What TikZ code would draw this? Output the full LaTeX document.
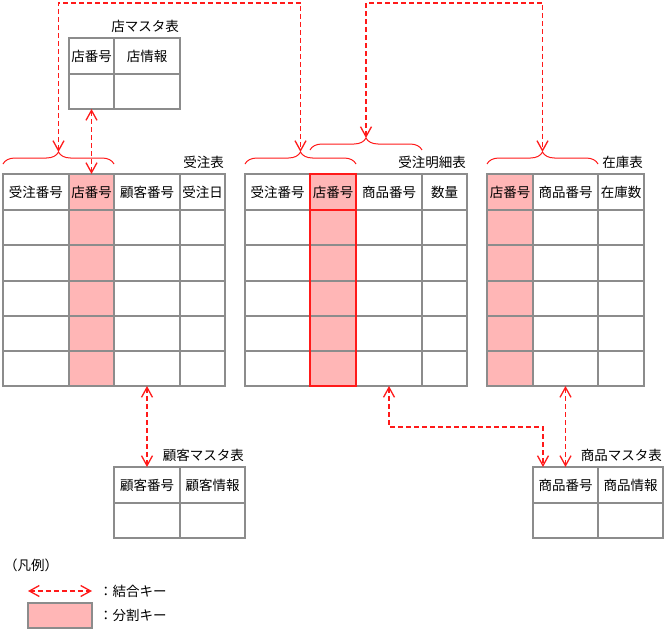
\documentclass[tikz,border=0pt]{standalone}
\usepackage{fontspec}
\setmainfont{Noto Sans CJK JP}
\usetikzlibrary{arrows.meta,decorations.pathreplacing,calc}

\definecolor{keypink}{HTML}{FFB6B6}
\definecolor{gridgray}{HTML}{8C8C8C}
\definecolor{keyred}{HTML}{FF1A1A}

\tikzset{
  cellbase/.style={draw=gridgray, line width=1.2pt, anchor=north west, inner sep=0pt, outer sep=0pt},
  hcell/.style={cellbase, minimum height=36pt, font=\fontsize{13.5}{15}\selectfont},
  bcell/.style={cellbase, minimum height=176pt},
  mcell/.style={cellbase, minimum height=35pt},
  gridline/.style={draw=gridgray, line width=1.2pt},
  tabtitle/.style={anchor=south east, inner sep=1pt, yshift=4pt, font=\fontsize{13.5}{15}\selectfont},
  legtext/.style={anchor=west, inner sep=0pt, font=\fontsize{13.5}{15}\selectfont},
  keybrace/.style={draw=keyred, line width=1pt, decorate, decoration={brace, amplitude=12pt}},
  keylink/.style={draw=keyred, line width=1.3pt, dash pattern=on 5pt off 3pt,
    {Straight Barb[length=10pt,width=11pt]}-{Straight Barb[length=10pt,width=11pt]}},
  splitbox/.style={keyred, line width=2.5pt}
}

\begin{document}
\begin{tikzpicture}[x=1pt,y=-1pt]
    \useasboundingbox (0,0) rectangle (667,632);

    % 受注表
    \foreach \x/\w/\t/\f [count=\i] in {3/66/受注番号/white, 69/45/店番号/keypink, 114/66/顧客番号/white, 180/45/受注日/white}{
        \node[hcell, fill=\f, minimum width=\w pt] (jc-h\i) at (\x,174) {\t};
        \node[bcell, fill=\f, minimum width=\w pt] (jc-b\i) at (\x,210) {};
    }
    \foreach \y in {245,281,316,351} \draw[gridline] (3,\y) -- (225,\y);
    \node[tabtitle] (jc-title) at (jc-h4.north east) {受注表};

    % 受注明細表
    \foreach \x/\w/\t/\f [count=\i] in {245/65/受注番号/white, 310/46/店番号/keypink, 356/66/商品番号/white, 422/45/数量/white}{
        \node[hcell, fill=\f, minimum width=\w pt] (md-h\i) at (\x,174) {\t};
        \node[bcell, fill=\f, minimum width=\w pt] (md-b\i) at (\x,210) {};
    }
    \foreach \y in {245,281,316,351} \draw[gridline] (245,\y) -- (467,\y);
    \draw[splitbox] (md-h2.north west) rectangle (md-b2.south east);
    \draw[splitbox] (md-h2.south west) -- (md-h2.south east);
    \node[tabtitle] (md-title) at (md-h4.north east) {受注明細表};

    % 在庫表
    \foreach \x/\w/\t/\f [count=\i] in {487/46/店番号/keypink, 533/65/商品番号/white, 598/46/在庫数/white}{
        \node[hcell, fill=\f, minimum width=\w pt] (zk-h\i) at (\x,174) {\t};
        \node[bcell, fill=\f, minimum width=\w pt] (zk-b\i) at (\x,210) {};
    }
    \foreach \y in {245,281,316,351} \draw[gridline] (487,\y) -- (644,\y);
    \node[tabtitle] (zk-title) at (zk-h3.north east) {在庫表};

    % 店マスタ表
    \foreach \x/\w/\t [count=\i] in {69/45/店番号, 114/66/店情報}{
        \node[hcell, minimum width=\w pt] (tm-h\i) at (\x,38) {\t};
        \node[mcell, minimum width=\w pt] (tm-b\i) at (\x,74) {};
    }
    \node[tabtitle] (tm-title) at (tm-h2.north east) {店マスタ表};

    % 顧客マスタ表
    \foreach \x/\w/\t [count=\i] in {114/66/顧客番号, 180/65/顧客情報}{
        \node[hcell, minimum width=\w pt] (km-h\i) at (\x,467) {\t};
        \node[mcell, minimum width=\w pt] (km-b\i) at (\x,503) {};
    }
    \node[tabtitle] (km-title) at (km-h2.north east) {顧客マスタ表};

    % 商品マスタ表
    \foreach \x/\w/\t [count=\i] in {533/65/商品番号, 598/65/商品情報}{
        \node[hcell, minimum width=\w pt] (sh-h\i) at (\x,467) {\t};
        \node[mcell, minimum width=\w pt] (sh-b\i) at (\x,503) {};
    }
    \node[tabtitle] (sh-title) at (sh-h2.north east) {商品マスタ表};

    % Braces over the key columns
    \draw[keybrace] ([yshift=10pt]jc-h1.north west) -- coordinate[midway, yshift=12pt] (jc-tip) ([yshift=10pt]jc-h2.north east);
    \draw[keybrace] ([yshift=10pt]md-h1.north west) -- coordinate[midway, yshift=12pt] (md-tip1) ([yshift=10pt]md-h2.north east);
    \draw[keybrace] ([yshift=24pt]md-h2.north west) -- coordinate[midway, yshift=12pt] (md-tip2) ([yshift=24pt]md-h3.north east);
    \draw[keybrace] ([yshift=10pt]zk-h1.north west) -- coordinate[midway, yshift=12pt] (zk-tip) ([yshift=10pt]zk-h2.north east);

    % Join keys
    \coordinate (top) at (0,3);
    \coordinate (mid) at (0,427);
    \draw[keylink] (jc-tip) -- (jc-tip |- top) -| (md-tip1);
    \draw[keylink] (md-tip2) -- (md-tip2 |- top) -| (zk-tip);
    \draw[keylink] (tm-b1.south) -- (jc-h2.north);
    \draw[keylink] (jc-b3.south) -- (km-h1.north);
    \draw[keylink] (md-b3.south) -- (md-b3.south |- mid) -| ([xshift=10pt]sh-h1.north west);
    \draw[keylink] (zk-b2.south) -- (sh-h1.north);

    % Legend
    \node[legtext] (lg-title) at (4,565) {（凡例）};
    \coordinate (lg-a1) at (28,591);
    \coordinate (lg-a2) at (92,591);
    \draw[keylink] (lg-a1) -- (lg-a2);
    \node[legtext] (lg-t1) at (99,591) {：結合キー};
    \node[cellbase, fill=keypink, minimum width=64pt, minimum height=25pt] (lg-box) at (28,603) {};
    \node[legtext] (lg-t2) at (99,615) {：分割キー};
\end{tikzpicture}
\end{document}
